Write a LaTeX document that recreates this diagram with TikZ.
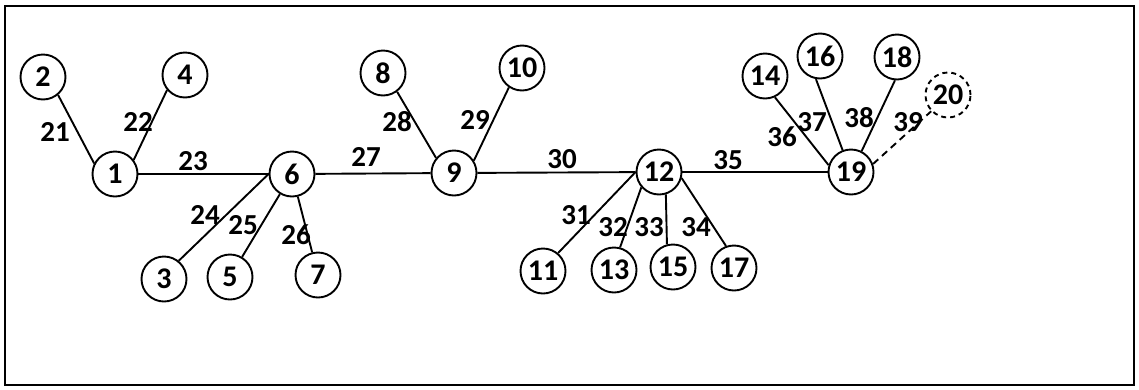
\documentclass[tikz,border=0pt]{standalone}
\usepackage{fontspec}
\setmainfont{Carlito}
\usetikzlibrary{positioning}

\tikzset{
  vertex/.style={circle,draw,line width=1.9pt,minimum size=45pt,inner sep=0pt,
    font=\fontsize{30}{30}\selectfont\bfseries},
  ghost/.style={vertex,dashed,dash pattern=on 5pt off 4pt},
  elabel/.style={inner sep=0pt,font=\fontsize{29}{29}\selectfont\bfseries},
  link/.style={line width=1.9pt},
}

\begin{document}
\begin{tikzpicture}[x=1pt,y=-1pt]
\useasboundingbox (0,0) rectangle (1139,389);
\draw[line width=1.6pt] (5,6) rectangle (1134,385);

% nodes
\node[vertex] (n1)  at (115,174) {1};
\node[vertex] (n2)  at (43,77)   {2};
\node[vertex] (n3)  at (164,279) {3};
\node[vertex] (n4)  at (185,75)  {4};
\node[vertex] (n5)  at (230,277) {5};
\node[vertex] (n6)  at (292,174) {6};
\node[vertex] (n7)  at (318,275) {7};
\node[vertex] (n8)  at (383,73)  {8};
\node[vertex] (n9)  at (454,173) {9};
\node[vertex] (n10) at (522,68)  {10};
\node[vertex] (n11) at (543,271) {11};
\node[vertex] (n12) at (659,172) {12};
\node[vertex] (n13) at (614,270) {13};
\node[vertex] (n14) at (765,76)  {14};
\node[vertex] (n15) at (673,267) {15};
\node[vertex] (n16) at (820,56)  {16};
\node[vertex] (n17) at (734,268) {17};
\node[vertex] (n18) at (897,57)  {18};
\node[vertex] (n19) at (851,172) {19};
\node[ghost]  (n20) at (948,95)  {20};

% branches
\draw[link] (n2.-50) -- (n1.153);
\draw[link] (n1.37) -- (n4.220);
\draw[link] (n1) -- (n6);
\draw[link] (n6.west) -- (n3.51);
\draw[link] (n6) -- (n5);
\draw[link] (n6) -- (n7);
\draw[link] (n6) -- (n9);
\draw[link] (n8.-53) -- (n9.140);
\draw[link] (n9.32) -- (n10.236);
\draw[link] (n9) -- (n12);
\draw[link] (n12.west) -- (n11.50);
\draw[link] (n12.221) -- (n13.75);
\draw[link] (n12.-73) -- (n15.105);
\draw[link] (n12.-15) -- (n17.110);
\draw[link] (n12) -- (n19);
\draw[link] (n14.-65) -- (n19.163);
\draw[link] (n16.-100) -- (n19.111);
\draw[link] (n19.63) -- (n18.-95);
\draw[link,dashed,dash pattern=on 7pt off 5pt] (n19.20) -- (n20.224);

% branch numbers
\node[elabel] (e21) at (55,132)  {21};
\node[elabel] (e22) at (138,122) {22};
\node[elabel] (e23) at (193,161) {23};
\node[elabel] (e24) at (205,215) {24};
\node[elabel] (e25) at (243,225) {25};
\node[elabel] (e26) at (296,235) {26};
\node[elabel] (e27) at (366,157) {27};
\node[elabel] (e28) at (397,122) {28};
\node[elabel] (e29) at (475,120) {29};
\node[elabel] (e30) at (562,159) {30};
\node[elabel] (e31) at (576,215) {31};
\node[elabel] (e32) at (613,227) {32};
\node[elabel] (e33) at (649,227) {33};
\node[elabel] (e34) at (696,227) {34};
\node[elabel] (e35) at (728,160) {35};
\node[elabel] (e36) at (782,137) {36};
\node[elabel] (e37) at (812,122) {37};
\node[elabel] (e38) at (859,118) {38};
\node[elabel] (e39) at (908,122) {39};
\end{tikzpicture}
\end{document}
